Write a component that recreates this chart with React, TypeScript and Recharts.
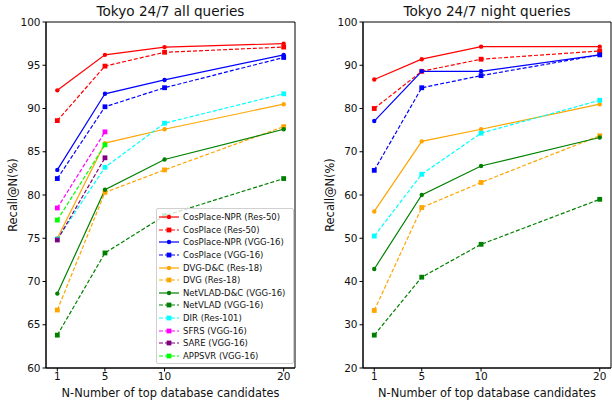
import React from 'react'
import { LineChart, Line, XAxis, YAxis, ReferenceArea, Legend } from 'recharts'

// x positions: number of top database candidates
const X = [1, 5, 10, 20]

// Tokyo 24/7 all queries
const cpNprRes50All = [92.1, 96.2, 97.1, 97.5]
const cpRes50All = [88.6, 94.9, 96.5, 97.1]
const cpNprVggAll = [82.9, 91.7, 93.3, 96.2]
const cpVggAll = [81.9, 90.2, 92.4, 95.9]
const dvgDcAll = [75.0, 86.0, 87.6, 90.5]
const dvgAll = [66.7, 80.3, 82.9, 87.9]
const netvladDcAll = [68.6, 80.6, 84.1, 87.6]
const netvladAll = [63.8, 73.3, 77.6, 81.9]
const dirAll = [74.9, 83.2, 88.3, 91.7]
const sfrsAll = [78.5, 87.3, null, null]
const sareAll = [74.8, 84.3, null, null]
const appsvrAll = [77.1, 85.8, null, null]

// Tokyo 24/7 night queries
const cpNprRes50Night = [86.7, 91.4, 94.3, 94.3]
const cpRes50Night = [80.0, 88.6, 91.4, 93.3]
const cpNprVggNight = [77.1, 88.6, 88.6, 92.4]
const cpVggNight = [65.7, 84.8, 87.6, 92.4]
const dvgDcNight = [56.2, 72.4, 75.2, 81.0]
const dvgNight = [33.3, 57.1, 62.9, 73.7]
const netvladDcNight = [42.9, 60.0, 66.7, 73.3]
const netvladNight = [27.6, 41.0, 48.6, 59.0]
const dirNight = [50.5, 64.8, 74.3, 81.9]

const Y_TICKS_ALL = [60, 65, 70, 75, 80, 85, 90, 95, 100]
const Y_TICKS_NIGHT = [20, 30, 40, 50, 60, 70, 80, 90, 100]

type Series = {
  key: string
  name: string
  color: string
  dashed: boolean
  square: boolean
}

const SERIES: Series[] = [
  { key: 'cpNprRes50', name: 'CosPlace-NPR (Res-50)', color: '#ff0000', dashed: false, square: false },
  { key: 'cpRes50', name: 'CosPlace (Res-50)', color: '#ff0000', dashed: true, square: true },
  { key: 'cpNprVgg', name: 'CosPlace-NPR (VGG-16)', color: '#0000ff', dashed: false, square: false },
  { key: 'cpVgg', name: 'CosPlace (VGG-16)', color: '#0000ff', dashed: true, square: true },
  { key: 'dvgDc', name: 'DVG-D&C (Res-18)', color: '#ffa500', dashed: false, square: false },
  { key: 'dvg', name: 'DVG (Res-18)', color: '#ffa500', dashed: true, square: true },
  { key: 'netvladDc', name: 'NetVLAD-D&C (VGG-16)', color: '#008000', dashed: false, square: false },
  { key: 'netvlad', name: 'NetVLAD (VGG-16)', color: '#008000', dashed: true, square: true },
  { key: 'dir', name: 'DIR (Res-101)', color: '#00ffff', dashed: true, square: true },
  { key: 'sfrs', name: 'SFRS (VGG-16)', color: '#ff00ff', dashed: true, square: true },
  { key: 'sare', name: 'SARE (VGG-16)', color: '#800080', dashed: true, square: true },
  { key: 'appsvr', name: 'APPSVR (VGG-16)', color: '#00ff00', dashed: true, square: true },
]

const allValues: Record<string, (number | null)[]> = {
  cpNprRes50: cpNprRes50All,
  cpRes50: cpRes50All,
  cpNprVgg: cpNprVggAll,
  cpVgg: cpVggAll,
  dvgDc: dvgDcAll,
  dvg: dvgAll,
  netvladDc: netvladDcAll,
  netvlad: netvladAll,
  dir: dirAll,
  sfrs: sfrsAll,
  sare: sareAll,
  appsvr: appsvrAll,
}

const nightValues: Record<string, (number | null)[]> = {
  cpNprRes50: cpNprRes50Night,
  cpRes50: cpRes50Night,
  cpNprVgg: cpNprVggNight,
  cpVgg: cpVggNight,
  dvgDc: dvgDcNight,
  dvg: dvgNight,
  netvladDc: netvladDcNight,
  netvlad: netvladNight,
  dir: dirNight,
}

const buildRows = (values: Record<string, (number | null)[]>) =>
  X.map((n, i) => {
    const row: Record<string, number | null> = { n }
    Object.keys(values).forEach((k) => {
      row[k] = values[k][i]
    })
    return row
  })

const FONT = '"DejaVu Sans", sans-serif'

const squareDot = (color: string) => (props: any) => {
  const { cx, cy, index } = props
  if (cx == null || cy == null || props.value == null) return <g key={`sq-${index}`} />
  return <rect key={`sq-${index}`} x={cx - 2.4} y={cy - 2.4} width={4.8} height={4.8} fill={color} />
}

const LegendBox = () => (
  <div
    style={{
      background: 'rgba(255,255,255,0.8)',
      border: '1px solid #d0d0d0',
      borderRadius: 2,
      padding: '2px 3px 1px 1px',
      fontFamily: FONT,
      fontSize: 8.5,
      color: '#111',
    }}
  >
    {SERIES.map((s) => (
      <div key={s.key} style={{ display: 'flex', alignItems: 'center', height: 12.6 }}>
        <svg width={22} height={8} style={{ marginRight: 3, flexShrink: 0 }}>
          <line x1={1} y1={4} x2={21} y2={4} stroke={s.color} strokeWidth={1.2} strokeDasharray={s.dashed ? '4 2' : undefined} />
          {s.square ? (
            <rect x={8.6} y={1.6} width={4.8} height={4.8} fill={s.color} />
          ) : (
            <circle cx={11} cy={4} r={2.2} fill={s.color} />
          )}
        </svg>
        <span style={{ whiteSpace: 'nowrap' }}>{s.name}</span>
      </div>
    ))}
  </div>
)

type PanelProps = {
  left: number
  title: string
  values: Record<string, (number | null)[]>
  yDomain: [number, number]
  yTicks: number[]
  yAxisWidth: number
  rightMargin: number
  yLabelOffset: number
  showLegend: boolean
}

function Panel({ left, title, values, yDomain, yTicks, yAxisWidth, rightMargin, yLabelOffset, showLegend }: PanelProps) {
  const rows = buildRows(values)
  const shown = SERIES.filter((s) => values[s.key])
  const plotLeft = yAxisWidth
  const plotRight = 306 - rightMargin
  return (
    <div style={{ position: 'absolute', left, top: 0, width: 306, height: 401 }}>
      <div
        style={{
          position: 'absolute',
          left: plotLeft - 20,
          width: plotRight - plotLeft + 40,
          top: 4,
          textAlign: 'center',
          fontFamily: FONT,
          fontSize: 13.6,
          lineHeight: '15px',
          color: '#111',
        }}
      >
        {title}
      </div>
      <LineChart width={306} height={401} data={rows} margin={{ top: 22, right: rightMargin, bottom: 0, left: 0 }}>
        <XAxis
          dataKey="n"
          type="number"
          domain={[0.05, 20.95]}
          ticks={X}
          allowDataOverflow
          height={33}
          tickSize={3.5}
          tickMargin={1}
          axisLine={{ stroke: '#000' }}
          tickLine={{ stroke: '#000' }}
          tick={{ fill: '#111', fontSize: 10.5, fontFamily: FONT }}
          label={{ value: 'N-Number of top database candidates', position: 'insideBottom', offset: 4, fill: '#111', fontSize: 11.4, fontFamily: FONT }}
        />
        <YAxis
          type="number"
          domain={yDomain}
          ticks={yTicks}
          allowDataOverflow
          width={yAxisWidth}
          tickSize={3.5}
          tickMargin={2}
          axisLine={{ stroke: '#000' }}
          tickLine={{ stroke: '#000' }}
          tick={{ fill: '#111', fontSize: 10.5, fontFamily: FONT }}
          label={{
            value: 'Recall@N(%)',
            angle: -90,
            position: 'insideLeft',
            offset: yLabelOffset,
            fill: '#111',
            fontSize: 11.4,
            fontFamily: FONT,
            style: { textAnchor: 'middle' },
          }}
        />
        <ReferenceArea x1={0.05} x2={20.95} y1={yDomain[0]} y2={yDomain[1]} fill="none" stroke="#000" strokeWidth={1} />
        {shown.map((s) => (
          <Line
            key={s.key}
            dataKey={s.key}
            name={s.name}
            type="linear"
            stroke={s.color}
            strokeWidth={1.2}
            strokeDasharray={s.dashed ? '4 2' : undefined}
            dot={s.square ? squareDot(s.color) : { r: 2.2, fill: s.color, stroke: s.color, strokeWidth: 0 }}
            activeDot={false}
            isAnimationActive={false}
          />
        ))}
        {showLegend && (
          <Legend
            layout="horizontal"
            verticalAlign="middle"
            align="center"
            content={() => <LegendBox />}
            wrapperStyle={{ position: 'absolute', left: 156, top: 208, width: 138, height: 'auto' }}
          />
        )}
      </LineChart>
    </div>
  )
}

export default function App() {
  return (
    <div style={{ position: 'absolute', left: 0, top: 0, width: 612, height: 401, background: '#fff', overflow: 'hidden' }}>
      <Panel
        left={0}
        title="Tokyo 24/7 all queries"
        values={allValues}
        yDomain={[60, 100]}
        yTicks={Y_TICKS_ALL}
        yAxisWidth={46}
        rightMargin={11}
        yLabelOffset={13}
        showLegend
      />
      <Panel
        left={306}
        title="Tokyo 24/7 night queries"
        values={nightValues}
        yDomain={[20, 100]}
        yTicks={Y_TICKS_NIGHT}
        yAxisWidth={57}
        rightMargin={1}
        yLabelOffset={24}
        showLegend={false}
      />
    </div>
  )
}
